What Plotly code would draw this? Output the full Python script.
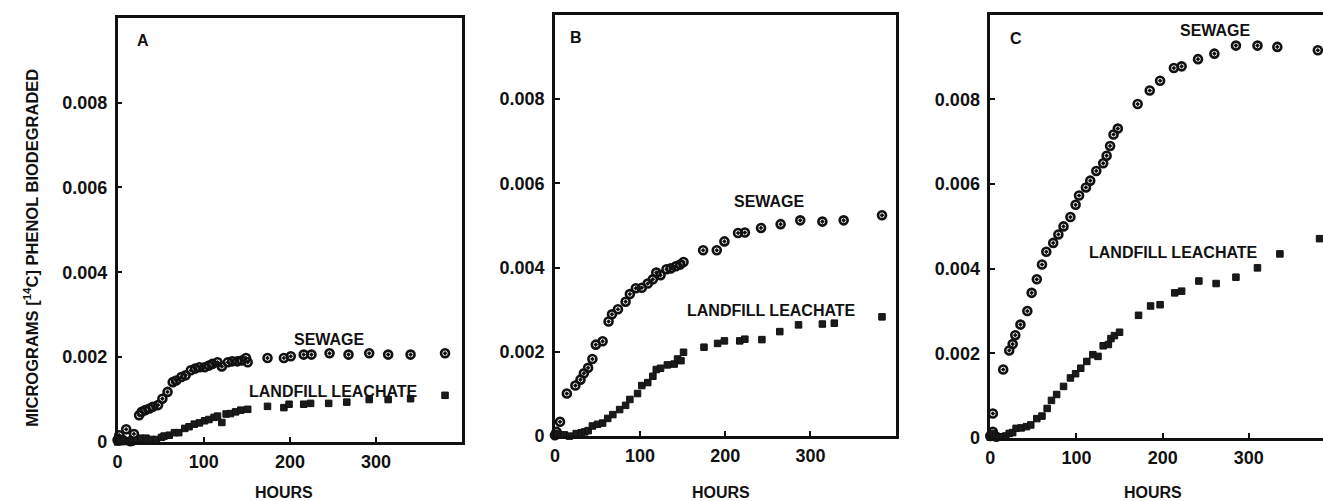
import plotly.graph_objects as go

# ---------------- data (hours, micrograms [14C] phenol biodegraded) ----------------
a_sew_h = [0, 2, 6, 10, 15, 19, 25, 28, 32, 37, 41, 47, 52, 58, 64, 68, 74, 79, 85, 90, 95, 101, 106, 110,
           116, 121, 128, 133, 139, 144, 149, 151, 174, 193, 201, 216, 225, 246, 268, 292, 314, 340, 380]
a_sew_v = [0.00005, 0.00016, 0.00005, 0.00030, 0.00002, 0.00019, 0.00063, 0.00071, 0.00075, 0.00079, 0.00083,
           0.00087, 0.00102, 0.00118, 0.00141, 0.00145, 0.00153, 0.00157, 0.00169, 0.00173, 0.00176, 0.00176,
           0.00180, 0.00184, 0.00188, 0.00178, 0.00188, 0.00190, 0.00190, 0.00192, 0.00198, 0.00188, 0.00198,
           0.00198, 0.00202, 0.00206, 0.00206, 0.00209, 0.00206, 0.00209, 0.00206, 0.00206, 0.00209]

a_lea_h = [0, 4, 8, 12, 16, 22, 27, 33, 39, 45, 51, 54, 60, 66, 71, 78, 83, 89, 95, 101, 106, 112, 116, 121,
           126, 131, 137, 143, 151, 174, 193, 199, 216, 224, 245, 266, 292, 314, 340, 380]
a_lea_v = [0.00000, 0.00001, 0.00003, 0.00001, 0.00000, 0.00003, 0.00009, 0.00009, 0.00006, 0.00006, 0.00011,
           0.00014, 0.00016, 0.00022, 0.00022, 0.00032, 0.00036, 0.00042, 0.00045, 0.00050, 0.00053, 0.00058,
           0.00061, 0.00046, 0.00066, 0.00067, 0.00071, 0.00075, 0.00077, 0.00084, 0.00081, 0.00089, 0.00089,
           0.00091, 0.00091, 0.00094, 0.00100, 0.00100, 0.00102, 0.00110]

b_sew_h = [0, 2, 6, 14, 24, 30, 34, 39, 44, 48, 56, 63, 67, 74, 83, 88, 95, 102, 109, 115, 119, 124, 131,
           136, 142, 147, 151, 174, 190, 199, 215, 223, 242, 265, 288, 314, 339, 384]
b_sew_v = [0.00002, 0.00010, 0.00034, 0.00101, 0.00120, 0.00134, 0.00149, 0.00162, 0.00183, 0.00217, 0.00225,
           0.00272, 0.00289, 0.00301, 0.00319, 0.00337, 0.00351, 0.00352, 0.00362, 0.00372, 0.00388, 0.00382,
           0.00396, 0.00398, 0.00403, 0.00407, 0.00413, 0.00441, 0.00441, 0.00462, 0.00482, 0.00483, 0.00494,
           0.00503, 0.00512, 0.00509, 0.00512, 0.00524]

b_lea_h = [0, 3, 7, 11, 17, 25, 31, 35, 39, 44, 50, 56, 62, 68, 76, 83, 88, 97, 102, 109, 115, 119, 124,
           132, 140, 144, 148, 151, 175, 191, 199, 217, 223, 243, 264, 286, 314, 328, 384]
b_lea_v = [0.00003, 0.00005, 0.00002, 0.00003, 0.00000, 0.00006, 0.00008, 0.00010, 0.00013, 0.00024, 0.00028,
           0.00031, 0.00042, 0.00051, 0.00063, 0.00073, 0.00087, 0.00101, 0.00120, 0.00127, 0.00142, 0.00158,
           0.00161, 0.00169, 0.00171, 0.00183, 0.00179, 0.00199, 0.00211, 0.00220, 0.00226, 0.00226, 0.00230,
           0.00229, 0.00248, 0.00264, 0.00266, 0.00268, 0.00283]

c_sew_h = [0, 3, 3, 7, 15, 22, 26, 29, 35, 43, 48, 54, 60, 65, 73, 79, 85, 93, 99, 103, 111, 116, 123, 131,
           135, 139, 143, 148, 171, 185, 197, 213, 222, 241, 260, 285, 310, 333, 380]
c_sew_v = [0.00005, 0.00015, 0.00058, 0.00003, 0.00162, 0.00207, 0.00222, 0.00243, 0.00268, 0.00300, 0.00343,
           0.00375, 0.00410, 0.00440, 0.00461, 0.00481, 0.00500, 0.00522, 0.00551, 0.00573, 0.00592, 0.00608,
           0.00631, 0.00649, 0.00667, 0.00690, 0.00717, 0.00731, 0.00789, 0.00821, 0.00844, 0.00874, 0.00878,
           0.00895, 0.00908, 0.00927, 0.00927, 0.00924, 0.00916]

c_lea_h = [0, 3, 6, 10, 14, 18, 22, 26, 30, 36, 42, 47, 54, 60, 66, 71, 77, 85, 93, 99, 105, 112, 119, 125,
           131, 137, 140, 144, 150, 172, 186, 197, 214, 222, 242, 262, 285, 310, 336, 382]
c_lea_v = [0.00002, 0.00011, 0.00005, 0.00003, 0.00003, 0.00005, 0.00011, 0.00013, 0.00023, 0.00024, 0.00027,
           0.00031, 0.00046, 0.00052, 0.00070, 0.00089, 0.00103, 0.00122, 0.00142, 0.00152, 0.00165, 0.00181,
           0.00197, 0.00193, 0.00218, 0.00221, 0.00235, 0.00242, 0.00250, 0.00290, 0.00312, 0.00315, 0.00343,
           0.00347, 0.00371, 0.00365, 0.00380, 0.00402, 0.00435, 0.00471]

x_ticks = [0, 100, 200, 300]
x_tick_text = ["0", "100", "200", "300"]
y_ticks = [0, 0.002, 0.004, 0.006, 0.008]
y_tick_text = ["0", "0.002", "0.004", "0.006", "0.008"]

panel_letters = ["A", "B", "C"]
sewage_label = "SEWAGE"
leachate_label = "LANDFILL LEACHATE"
x_title = "HOURS"
y_title = "MICROGRAMS [<sup>14</sup>C] PHENOL BIODEGRADED"

# ---------------- figure ----------------
W, H = 1323, 501
FONT = "Liberation Sans, Arial, Helvetica, sans-serif"
INK = "#111111"

fig = go.Figure()

panels = [
    dict(sh=a_sew_h, sv=a_sew_v, lh=a_lea_h, lv=a_lea_v, xa="x", ya="y"),
    dict(sh=b_sew_h, sv=b_sew_v, lh=b_lea_h, lv=b_lea_v, xa="x2", ya="y2"),
    dict(sh=c_sew_h, sv=c_sew_v, lh=c_lea_h, lv=c_lea_v, xa="x3", ya="y3"),
]
for p in panels:
    fig.add_trace(go.Scatter(x=p["sh"], y=p["sv"], mode="markers", xaxis=p["xa"], yaxis=p["ya"],
                             marker=dict(symbol="circle-open-dot", size=8, color=INK,
                                         line=dict(width=2.6, color=INK)),
                             showlegend=False, cliponaxis=False))
    fig.add_trace(go.Scatter(x=p["lh"], y=p["lv"], mode="markers", xaxis=p["xa"], yaxis=p["ya"],
                             marker=dict(symbol="square", size=6.5, color="#1a1a1a",
                                         line=dict(width=1, color=INK)),
                             showlegend=False, cliponaxis=False))

def px_x(p):
    return p / W

def px_y(p):
    return 1 - p / H

# panel boxes in pixels: (left, right, top, bottom)
boxes = [(113, 459, 18, 451), (552, 894, 15, 445), (989, 1323, 15, 447)]
x_ranges = [[0, 400], [0, 400], [0, 386]]

axis_common = dict(showline=True, linewidth=2.5, linecolor=INK, ticks="inside", ticklen=5,
                   tickwidth=2, tickcolor=INK, showgrid=False, zeroline=False,
                   tickfont=dict(family=FONT, size=18, color=INK, weight="bold"))

for i, (l, r, t, b) in enumerate(boxes):
    sfx = "" if i == 0 else str(i + 1)
    fig.layout["xaxis" + sfx] = dict(domain=[px_x(l), px_x(r)], range=x_ranges[i],
                                     anchor="y" + sfx, tickvals=x_ticks, ticktext=x_tick_text,
                                     mirror=True, ticklabelstandoff=2, **axis_common)
    fig.layout["yaxis" + sfx] = dict(domain=[px_y(b), px_y(t)], range=[0, 0.01],
                                     anchor="x" + sfx, tickvals=y_ticks, ticktext=y_tick_text,
                                     mirror=(i < 2), ticklabelstandoff=4, **axis_common)

label_font = dict(family=FONT, size=16, color=INK, weight="bold")

# in-panel labels (data coordinates)
in_panel = [
    ("x", "y", panel_letters[0], 30, 0.00946),
    ("x", "y", sewage_label, 246, 0.00241),
    ("x", "y", leachate_label, 250, 0.00119),
    ("x2", "y2", panel_letters[1], 25, 0.00947),
    ("x2", "y2", sewage_label, 252, 0.00556),
    ("x2", "y2", leachate_label, 254, 0.00298),
    ("x3", "y3", panel_letters[2], 30, 0.00943),
    ("x3", "y3", sewage_label, 261, 0.00962),
    ("x3", "y3", leachate_label, 212, 0.00438),
]
for xr, yr, txt, xv, yv in in_panel:
    fig.add_annotation(xref=xr, yref=yr, x=xv, y=yv, text=txt, showarrow=False,
                       xanchor="center", yanchor="middle", font=label_font)

for cx in [280, 719, 1152]:
    fig.add_annotation(xref="paper", yref="paper", x=px_x(cx), y=px_y(503), text=x_title,
                       showarrow=False, xanchor="center", yanchor="middle", font=label_font)

fig.add_annotation(xref="paper", yref="paper", x=px_x(26), y=px_y(253), text=y_title,
                   textangle=-90, showarrow=False, xanchor="center", yanchor="middle",
                   font=dict(family=FONT, size=16.5, color=INK, weight="bold"))

fig.update_layout(width=W, height=H, margin=dict(l=0, r=0, t=0, b=0),
                  paper_bgcolor="white", plot_bgcolor="white")

page_fix = (
    "document.documentElement.style.margin='0';"
    "document.documentElement.style.padding='0';"
    "document.documentElement.style.overflow='hidden';"
    "document.documentElement.style.height='501px';"
    "document.body.style.margin='0';"
    "document.body.style.padding='0';"
    "document.body.style.overflow='hidden';"
    "document.body.style.height='501px';"
)
fig.write_html("out.html", config={"displayModeBar": False}, post_script=page_fix)
